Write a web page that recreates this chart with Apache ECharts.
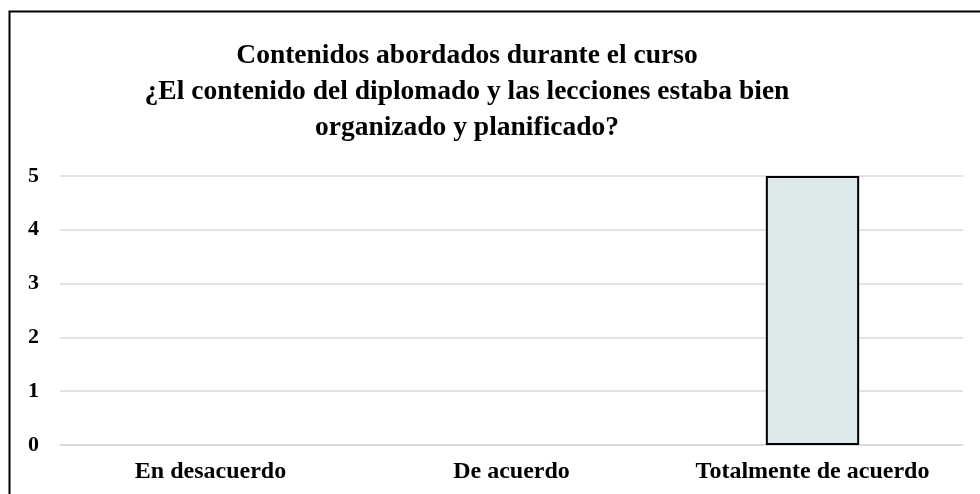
<!DOCTYPE html>
<html>
<head>
<meta charset="utf-8">
<script src="https://cdn.jsdelivr.net/npm/echarts@6/dist/echarts.min.js"></script>
<style>
html,body{margin:0;padding:0;background:#fff;}
#chart{width:980px;height:494px;}
</style>
</head>
<body>
<div id="chart"></div>
<script>
// Survey responses
const categories = ['En desacuerdo', 'De acuerdo', 'Totalmente de acuerdo'];
const responses = [0, 0, 5];
const yTicks = [0, 1, 2, 3, 4, 5];
const titleLines = [
  'Contenidos abordados durante el curso',
  '¿El contenido del diplomado y las lecciones estaba bien',
  'organizado y planificado?'
];

const serif = '"Liberation Serif", "Times New Roman", serif';
const chart = echarts.init(document.getElementById('chart'));

// Empty categories get no outline so only the filled bar shows
const barData = responses.map(v => ({
  value: v,
  itemStyle: { borderWidth: v === 0 ? 0 : 2 }
}));

chart.setOption({
  backgroundColor: '#ffffff',
  animation: false,
  graphic: [{
    type: 'rect',
    shape: { x: 9.5, y: 11.5, width: 1000, height: 1000 },
    style: { fill: 'none', stroke: '#000', lineWidth: 2 },
    z: 100
  }],
  title: {
    text: titleLines.join('\n'),
    left: 462,
    top: 33,
    textAlign: 'center',
    textStyle: {
      fontFamily: serif,
      fontWeight: 'bold',
      fontSize: 27.5,
      lineHeight: 36,
      color: '#000'
    }
  },
  grid: { left: 60, right: 17, top: 176, bottom: 49, containLabel: false },
  xAxis: {
    type: 'category',
    data: categories,
    axisLine: { show: true, lineStyle: { color: '#d9d9d9', width: 1.5 } },
    axisTick: { show: false },
    axisLabel: {
      interval: 0,
      margin: 15,
      fontFamily: serif,
      fontWeight: 'bold',
      fontSize: 24,
      color: '#000'
    }
  },
  yAxis: {
    type: 'value',
    min: yTicks[0],
    max: yTicks[yTicks.length - 1],
    interval: 1,
    axisLine: { show: false },
    axisTick: { show: false },
    splitLine: { lineStyle: { color: '#d9d9d9', width: 1.5 } },
    axisLabel: {
      margin: 21,
      fontFamily: serif,
      fontWeight: 'bold',
      fontSize: 22,
      color: '#000'
    }
  },
  series: [{
    type: 'bar',
    data: barData,
    barWidth: '31%',
    itemStyle: { color: '#dde8ea', borderColor: '#000', borderWidth: 2 }
  }]
});
</script>
</body>
</html>
